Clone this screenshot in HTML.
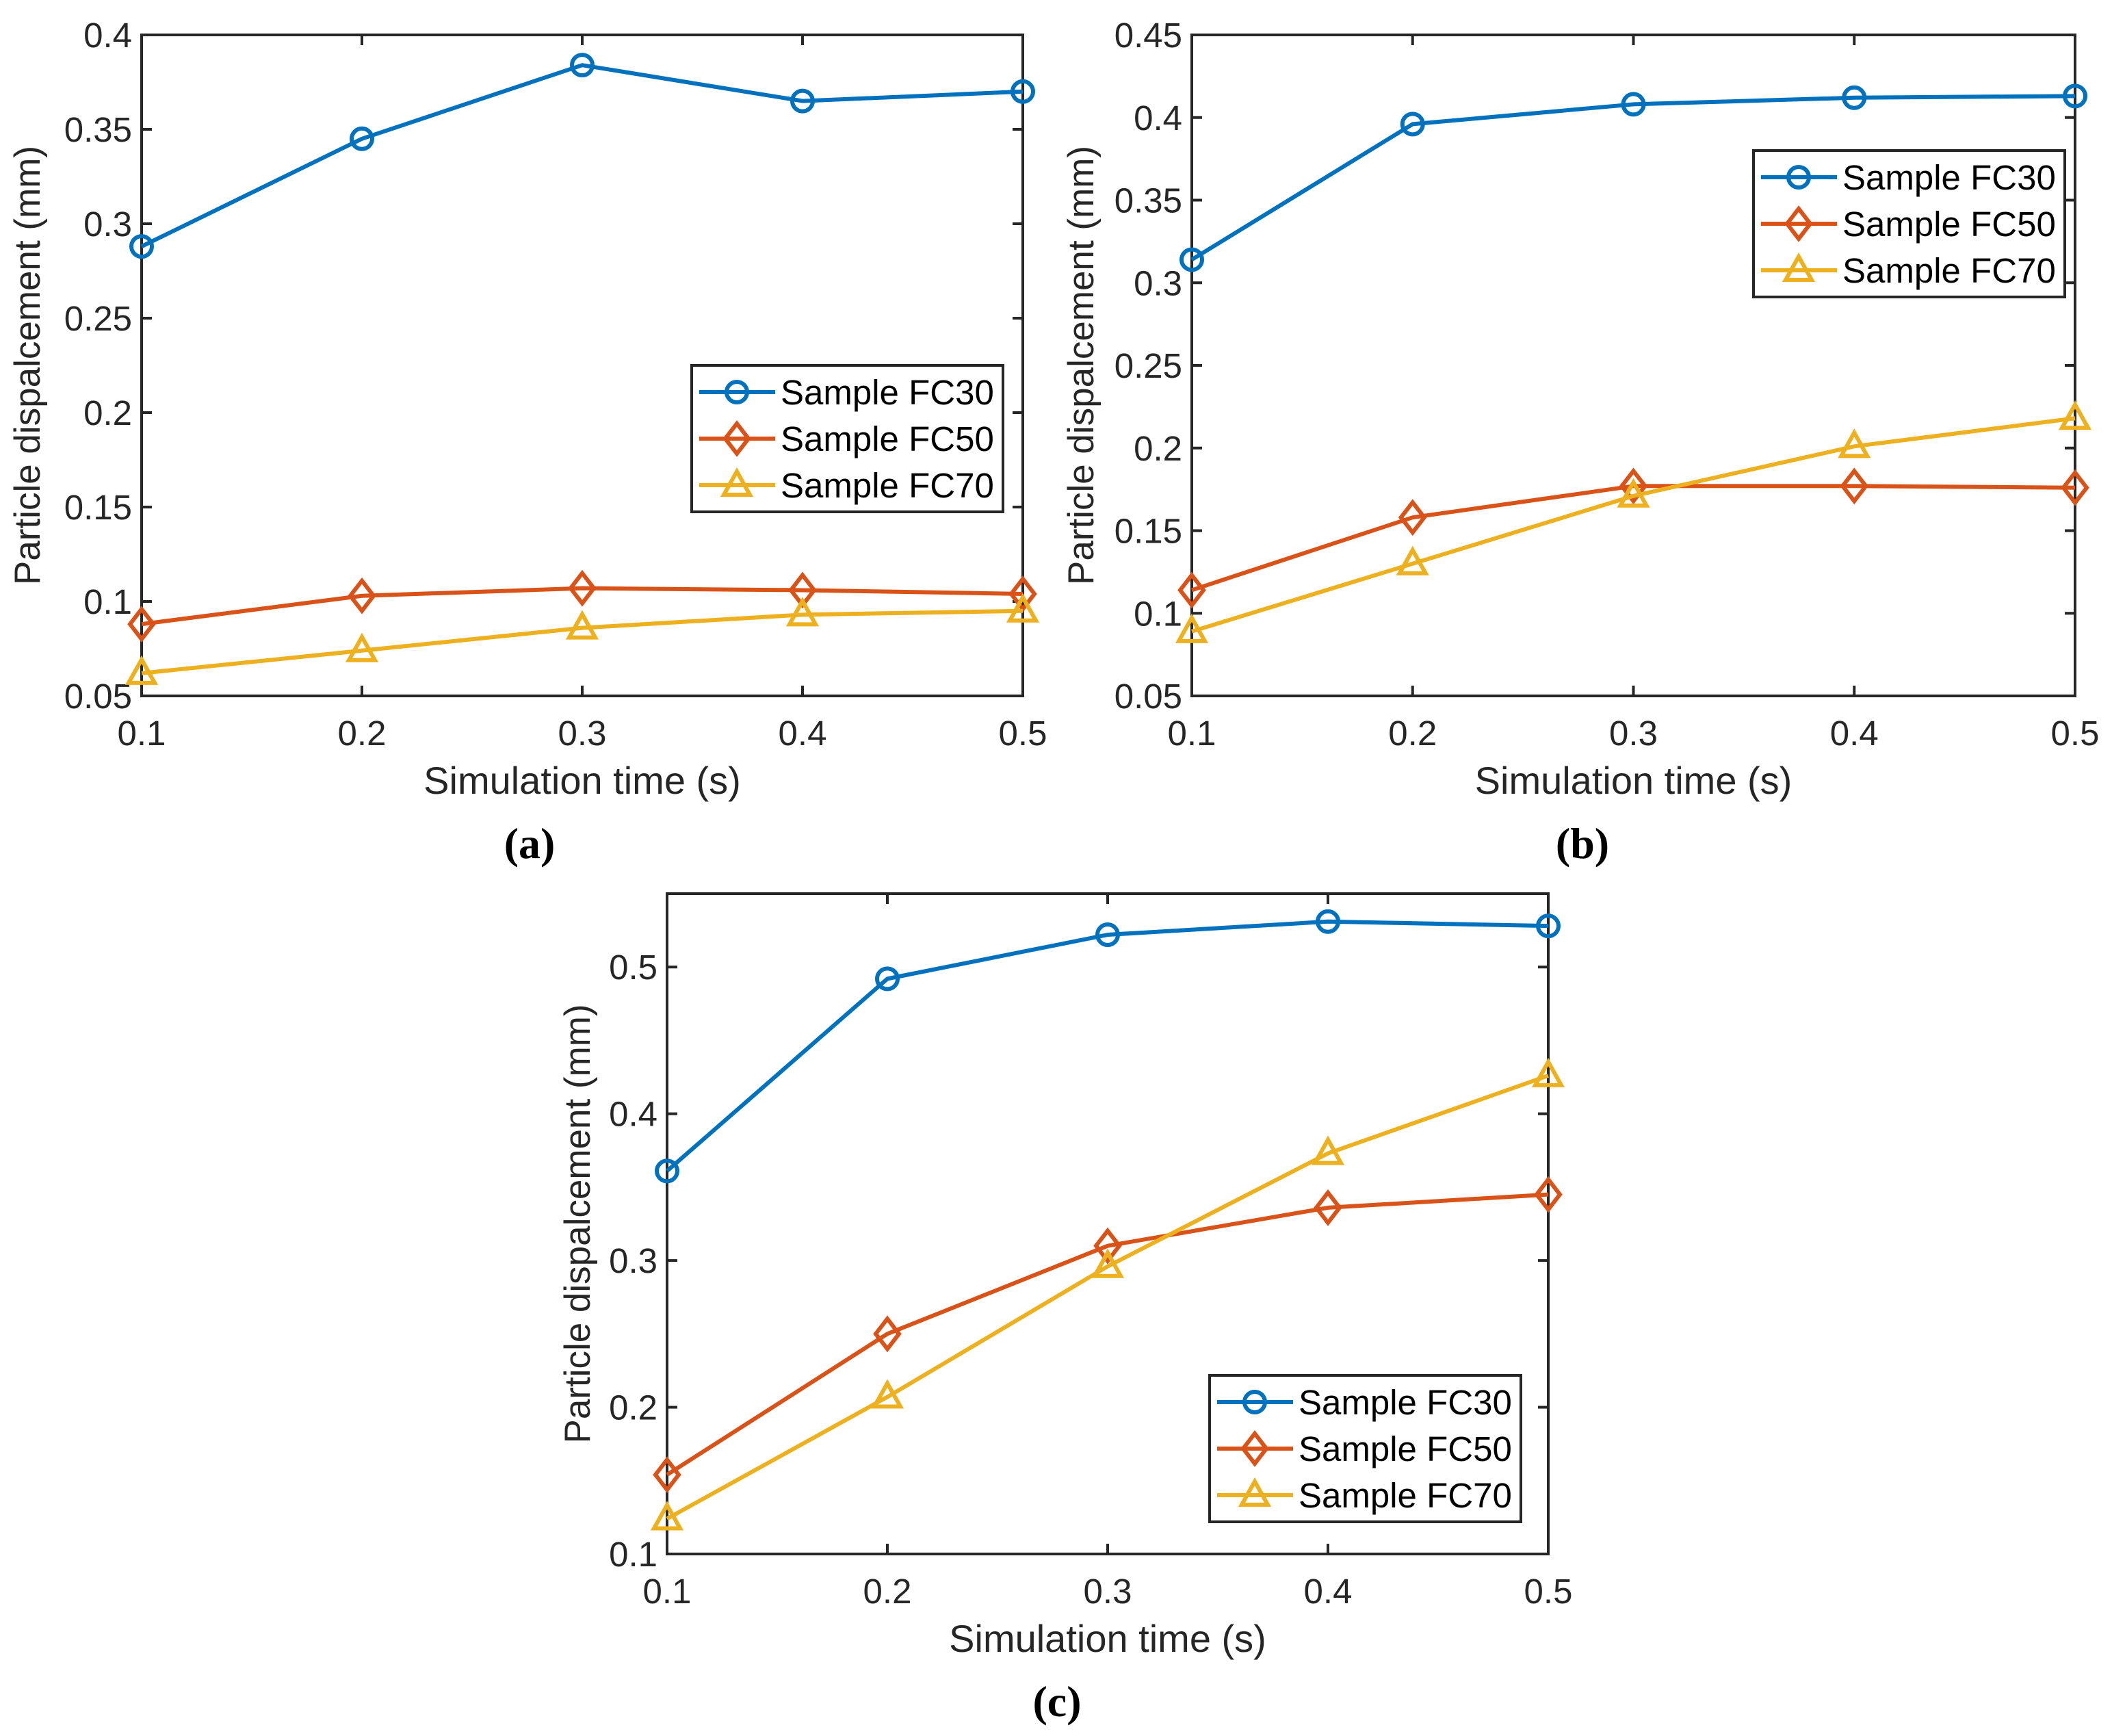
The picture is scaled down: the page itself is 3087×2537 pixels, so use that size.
<!DOCTYPE html>
<html><head><meta charset="utf-8">
<style>
html,body{margin:0;padding:0;background:#fff;}
svg{display:block;}
text{font-family:"Liberation Sans",Arial,sans-serif;fill:#262626;}
</style></head>
<body>
<svg id="fig" width="3087" height="2537" viewBox="0 0 3087 2537" xmlns="http://www.w3.org/2000/svg"></svg>
<script>
const xCats = [0.1, 0.2, 0.3, 0.4, 0.5];
const xTickLabels = ["0.1","0.2","0.3","0.4","0.5"];
const seriesNames = ["Sample FC30","Sample FC50","Sample FC70"];
const aFC30 = [0.288, 0.345, 0.384, 0.365, 0.370];
const aFC50 = [0.088, 0.103, 0.107, 0.106, 0.104];
const aFC70 = [0.062, 0.074, 0.086, 0.093, 0.095];
const bFC30 = [0.314, 0.396, 0.408, 0.412, 0.413];
const bFC50 = [0.114, 0.158, 0.177, 0.177, 0.176];
const bFC70 = [0.089, 0.130, 0.171, 0.201, 0.218];
const cFC30 = [0.361, 0.492, 0.522, 0.531, 0.528];
const cFC50 = [0.154, 0.250, 0.310, 0.336, 0.345];
const cFC70 = [0.124, 0.207, 0.296, 0.373, 0.426];
const aYTicks = ["0.05","0.1","0.15","0.2","0.25","0.3","0.35","0.4"];
const bYTicks = ["0.05","0.1","0.15","0.2","0.25","0.3","0.35","0.4","0.45"];
const cYTicks = ["0.1","0.2","0.3","0.4","0.5"];

const NS = "http://www.w3.org/2000/svg";
const svg = document.getElementById('fig');
const colors = ["#0072BD","#D95319","#EDB120"];
const markers = ["circle","diamond","triangle"];

function mk(tag, attrs, parent){
  const e = document.createElementNS(NS, tag);
  for (const k in attrs) e.setAttribute(k, attrs[k]);
  (parent||svg).appendChild(e);
  return e;
}
function marker(g, type, x, y, color){
  let m;
  if (type === "circle") m = mk('circle',{cx:x,cy:y,r:15,fill:'none',stroke:color,'stroke-width':6},g);
  else if (type === "diamond") m = mk('polygon',{points:`${x},${y-22} ${x+17},${y} ${x},${y+22} ${x-17},${y}`,fill:'none',stroke:color,'stroke-width':6},g);
  else m = mk('polygon',{points:`${x},${y-20} ${x+19},${y+14} ${x-19},${y+14}`,fill:'none',stroke:color,'stroke-width':6},g);
  
  
  return m;
}

function panel(p){
  const g = mk('g',{});
  
  
  const xs = v => p.L + (v - xCats[0]) / (xCats[xCats.length-1] - xCats[0]) * (p.R - p.L);
  const ys = v => p.B - (v - p.ymin) / (p.ymax - p.ymin) * (p.B - p.T);
  const box = mk('rect',{x:p.L,y:p.T,width:p.R-p.L,height:p.B-p.T,fill:'none',stroke:'#262626','stroke-width':4},g);
  
  
  xCats.forEach((v,i)=>{
    const x = xs(v);
    mk('line',{x1:x,y1:p.B,x2:x,y2:p.B-15,stroke:'#262626','stroke-width':4},g);
    mk('line',{x1:x,y1:p.T,x2:x,y2:p.T+15,stroke:'#262626','stroke-width':4},g);
    const t = mk('text',{x:x,y:p.B+72,'font-size':51,'text-anchor':'middle'},g);
    t.textContent = xTickLabels[i];
    
    
  });
  p.yTicks.forEach(s=>{
    const y = ys(parseFloat(s));
    mk('line',{x1:p.L,y1:y,x2:p.L+15,y2:y,stroke:'#262626','stroke-width':4},g);
    mk('line',{x1:p.R,y1:y,x2:p.R-15,y2:y,stroke:'#262626','stroke-width':4},g);
    const t = mk('text',{x:p.L-14,y:y+18,'font-size':51,'text-anchor':'end'},g);
    t.textContent = s;
    
    
  });
  const xt = mk('text',{x:(p.L+p.R)/2,y:p.B+143,'font-size':56,'text-anchor':'middle'},g);
  xt.textContent = "Simulation time (s)";
  
  
  const ytx = p.ylabX, yty = (p.T+p.B)/2;
  const yt = mk('text',{x:ytx,y:yty,'font-size':53,'text-anchor':'middle',transform:`rotate(-90 ${ytx} ${yty})`},g);
  yt.textContent = "Particle dispalcement (mm)";
  
  
  const cap = mk('text',{x:p.capX,y:p.B+237,'font-size':64,'text-anchor':'middle','font-weight':'bold',style:'font-family:"Liberation Serif",serif;fill:#000'},g);
  cap.textContent = "(" + p.id + ")";
  
  
  p.series.forEach((vals,si)=>{
    const sg = mk('g',{},g);
    
    
    const pts = vals.map((v,i)=>xs(xCats[i])+','+ys(v)).join(' ');
    const pl = mk('polyline',{points:pts,fill:'none',stroke:colors[si],'stroke-width':6,'stroke-linejoin':'round'},sg);
    
    
    vals.forEach((v,i)=>marker(sg, markers[si], xs(xCats[i]), ys(v), colors[si]));
  });
  const lg = mk('g',{},g);
  
  
  const lb = mk('rect',{x:p.lx,y:p.ly,width:455,height:214,fill:'#fff',stroke:'#262626','stroke-width':4},lg);
  
  
  seriesNames.forEach((n,si)=>{
    const ey = p.ly + 39 + si*68;
    const eg = mk('g',{},lg);
    
    
    mk('line',{x1:p.lx+11,y1:ey,x2:p.lx+122,y2:ey,stroke:colors[si],'stroke-width':6},eg);
    marker(eg, markers[si], p.lx+66, ey, colors[si]);
    const t = mk('text',{x:p.lx+130,y:ey+18,'font-size':51,style:'fill:#000'},eg);
    t.textContent = n;
    
    
  });
}

panel({id:'a',L:207,R:1495,T:51,B:1017,ymin:0.05,ymax:0.4,yTicks:aYTicks,series:[aFC30,aFC50,aFC70],ylabX:58,lx:1011,ly:534,capX:774});
panel({id:'b',L:1742,R:3033,T:51,B:1017,ymin:0.05,ymax:0.45,yTicks:bYTicks,series:[bFC30,bFC50,bFC70],ylabX:1598,lx:2563,ly:220,capX:2313});
panel({id:'c',L:975,R:2263,T:1306,B:2271,ymin:0.1,ymax:0.55,yTicks:cYTicks,series:[cFC30,cFC50,cFC70],ylabX:862,lx:1768,ly:2010,capX:1545});
</script>
</body></html>
